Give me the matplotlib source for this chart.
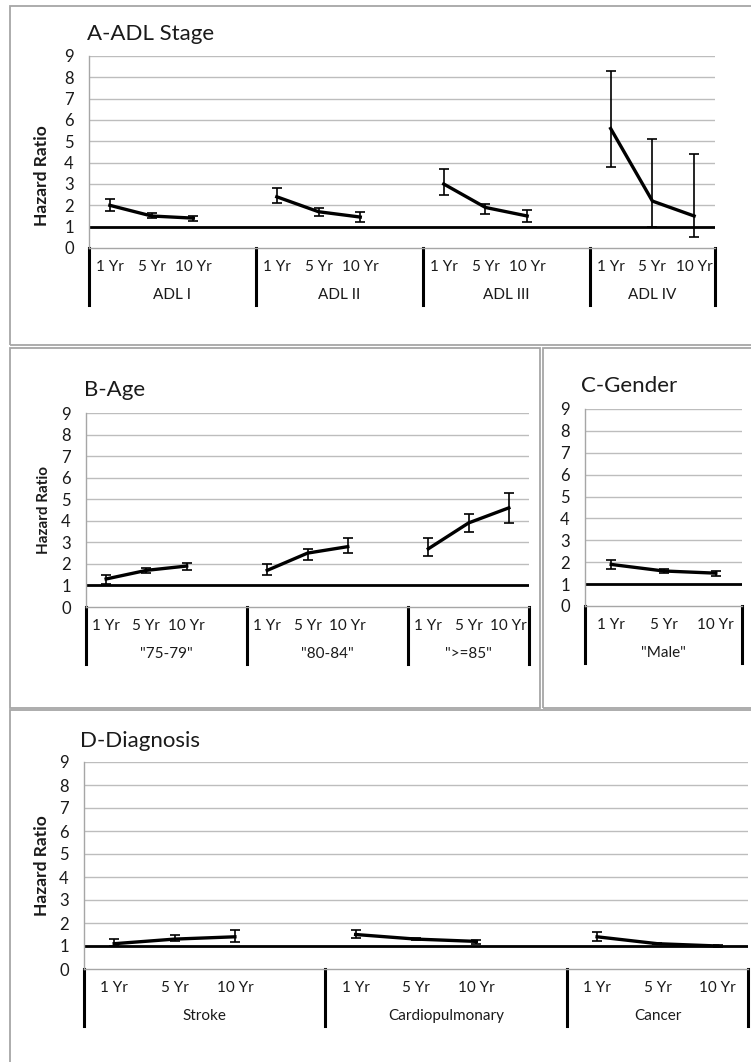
import matplotlib.pyplot as plt
from matplotlib.patches import Rectangle

# Hazard ratios with 95% CI
years = ['1 Yr', '5 Yr', '10 Yr']

adl_groups = ['ADL I', 'ADL II', 'ADL III', 'ADL IV']
adl_hr = [[2.0, 1.5, 1.4], [2.4, 1.7, 1.45], [3.0, 1.9, 1.5], [5.6, 2.2, 1.5]]
adl_lo = [[1.75, 1.4, 1.28], [2.1, 1.5, 1.2], [2.5, 1.6, 1.2], [3.8, 1.0, 0.5]]
adl_hi = [[2.28, 1.65, 1.5], [2.8, 1.88, 1.7], [3.7, 2.05, 1.8], [8.3, 5.1, 4.4]]

age_groups = ['"75-79"', '"80-84"', '">=85"']
age_hr = [[1.3, 1.7, 1.9], [1.7, 2.5, 2.8], [2.7, 3.9, 4.6]]
age_lo = [[1.05, 1.6, 1.7], [1.5, 2.2, 2.5], [2.35, 3.5, 3.9]]
age_hi = [[1.5, 1.8, 2.05], [2.0, 2.7, 3.2], [3.2, 4.3, 5.3]]

gender_groups = ['"Male"']
gender_hr = [[1.9, 1.6, 1.5]]
gender_lo = [[1.7, 1.52, 1.35]]
gender_hi = [[2.1, 1.68, 1.6]]

dx_groups = ['Stroke', 'Cardiopulmonary', 'Cancer']
dx_hr = [[1.1, 1.3, 1.4], [1.5, 1.3, 1.2], [1.4, 1.1, 1.0]]
dx_lo = [[1.0, 1.2, 1.17], [1.35, 1.25, 1.07], [1.2, 1.07, 0.95]]
dx_hi = [[1.3, 1.48, 1.7], [1.7, 1.35, 1.28], [1.6, 1.15, 1.05]]

plt.rcParams['font.family'] = ['Lato', 'DejaVu Sans']
W, H = 751, 1062
fig = plt.figure(figsize=(W / 100, H / 100), dpi=100)
TXT = '#1a1a1a'

# panel frames
for x0, y0, x1, y1 in [(10, 6, 760, 345), (10, 348, 540, 708),
                       (543, 348, 760, 708), (10, 710, 760, 1070)]:
    fig.patches.append(Rectangle((x0 / W, 1 - y1 / H), (x1 - x0) / W, (y1 - y0) / H,
                                 transform=fig.transFigure, fill=False,
                                 edgecolor='#a6a6a6', lw=1.3))


def draw_panel(box, title, title_pos, groups, hr, lo, hi, ylab_size=None,
               ylab_y=0.5, ylab_x=50, full_slots=4):
    left, top, right, bottom = box
    wpx, hpx = right - left, bottom - top
    ax = fig.add_axes([left / W, 1 - bottom / H, wpx / W, hpx / H])
    n = len(groups)
    nslots = full_slots * (n - 1) + 3
    ax.set_xlim(0, nslots)
    ax.set_ylim(0, 9)
    ax.set_yticks(range(10))
    ax.tick_params(axis='y', length=0, pad=11, labelsize=12, labelcolor=TXT)
    ax.set_xticks([])
    for s in ['top', 'right']:
        ax.spines[s].set_visible(False)
    for s in ['left', 'bottom']:
        ax.spines[s].set_color('#a6a6a6')
        ax.spines[s].set_linewidth(1.0)
    for v in range(1, 10):
        ax.axhline(v, color='#bdbdbd', lw=1.0, zorder=0)
    ax.axhline(1, color='black', lw=2.0, zorder=1)

    tr = ax.get_xaxis_transform()
    for g in range(n):
        xs = [g * full_slots + j + 0.5 for j in range(3)]
        yerr = [[hr[g][j] - lo[g][j] for j in range(3)],
                [hi[g][j] - hr[g][j] for j in range(3)]]
        ax.errorbar(xs, hr[g], yerr=yerr, color='black', lw=2.4, elinewidth=1.2,
                    capsize=3.5, capthick=1.2, zorder=3)
        for j, x in enumerate(xs):
            ax.text(x, -19 / hpx, years[j], transform=tr, ha='center', va='center',
                    fontsize=11, color=TXT)
        gx0 = g * full_slots
        gx1 = nslots if g == n - 1 else gx0 + full_slots
        ax.text((gx0 + gx1) / 2, -47 / hpx, groups[g], transform=tr, ha='center',
                va='center', fontsize=11, color=TXT)
        ax.plot([gx0, gx0], [0, -57 / hpx], transform=tr, color='black', lw=2.2,
                clip_on=False)
    ax.plot([nslots, nslots], [0, -57 / hpx], transform=tr, color='black', lw=2.2,
            clip_on=False)

    if ylab_size:
        ax.set_ylabel('Hazard Ratio', fontsize=ylab_size, fontweight='bold', color=TXT)
        ax.yaxis.set_label_coords(-(left - ylab_x) / wpx, ylab_y)
    fig.text(title_pos[0] / W, 1 - title_pos[1] / H, title, fontsize=16,
             color=TXT, ha='left', va='center')
    return ax


draw_panel((89, 56, 715, 248), 'A-ADL Stage', (87, 34), adl_groups, adl_hr, adl_lo,
           adl_hi, 12.5, ylab_y=(248 - 176) / 192, ylab_x=50)
draw_panel((86, 413, 529, 607), 'B-Age', (84, 390), age_groups, age_hr, age_lo,
           age_hi, 11, ylab_x=51)
draw_panel((585, 409, 742, 606), 'C-Gender', (581, 386), gender_groups, gender_hr,
           gender_lo, gender_hi)
draw_panel((84, 762, 748, 969), 'D-Diagnosis', (80, 741), dx_groups, dx_hr, dx_lo,
           dx_hi, 12.5, ylab_x=50)

fig.savefig('out.png', dpi=100)
